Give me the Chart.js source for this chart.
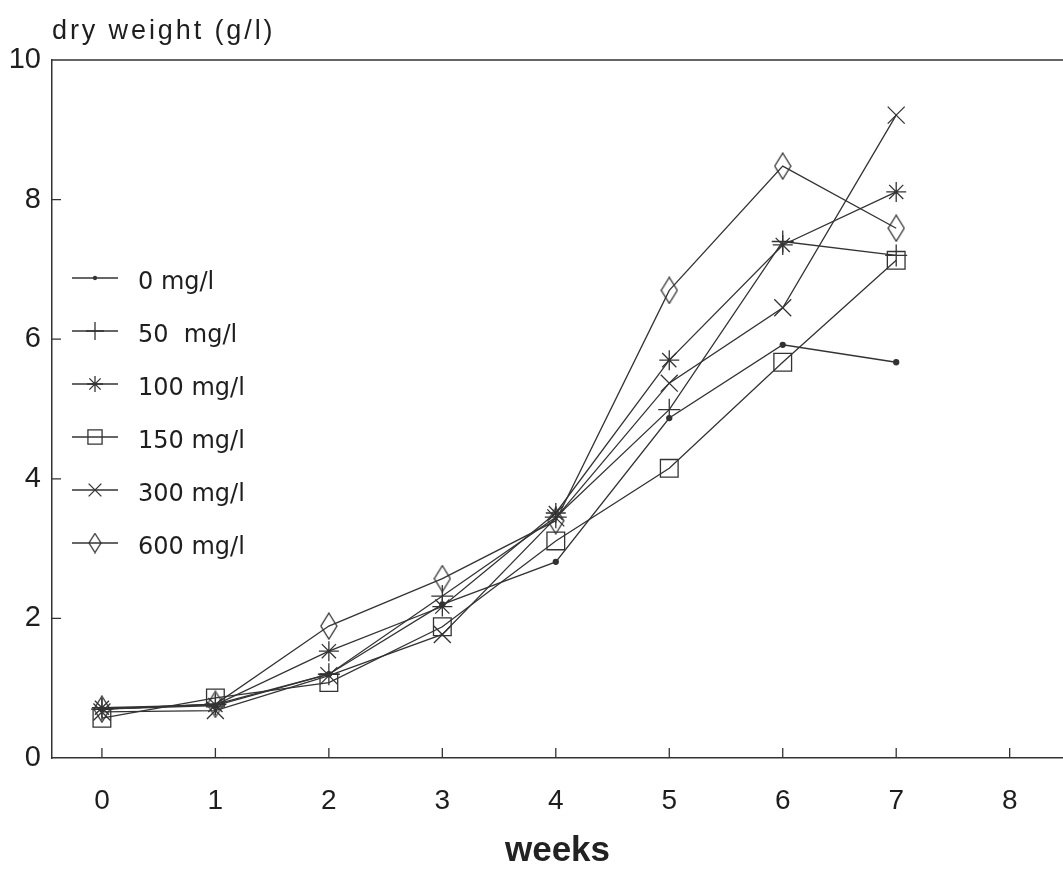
<!DOCTYPE html>
<html>
<head>
<meta charset="utf-8">
<title>dry weight</title>
<script src="https://cdn.jsdelivr.net/npm/chart.js@4.4.1/dist/chart.umd.min.js"></script>
<style>
  html, body { margin: 0; padding: 0; background: #fff; overflow: hidden; }
  #wrap { position: relative; width: 1063px; height: 872px; }
  canvas { display: block; }
</style>
</head>
<body>
<div id="wrap"><canvas id="dry-weight-chart" width="1063" height="872"></canvas></div>
<script>
// weeks of culture and dry weight (g/l) per dose
var weeks = [0, 1, 2, 3, 4, 5, 6, 7];
var xTicks = [0, 1, 2, 3, 4, 5, 6, 7, 8];
var yTicks = [0, 2, 4, 6, 8, 10];
var doseLabels = ['0 mg/l', '50  mg/l', '100 mg/l', '150 mg/l', '300 mg/l', '600 mg/l'];
var dose0   = [0.70, 0.75, 1.20, 2.20, 2.81, 4.87, 5.92, 5.67];
var dose50  = [0.70, 0.77, 1.20, 2.32, 3.45, 4.99, 7.40, 7.20];
var dose100 = [0.72, 0.76, 1.53, 2.17, 3.51, 5.70, 7.35, 8.11];
var dose150 = [0.57, 0.86, 1.08, 1.88, 3.11, 4.15, 5.67, 7.13];
var dose300 = [0.66, 0.68, 1.18, 1.77, 3.44, 5.37, 6.45, 9.21];
var dose600 = [0.70, 0.77, 1.89, 2.57, 3.40, 6.70, 8.48, 7.59];

var ink = '#333';
var textInk = '#1e1e1e';

// tall open diamond used as the 600 mg/l marker
function diamond(w, h) {
  var c = document.createElement('canvas');
  c.width = w + 2;
  c.height = h + 2;
  var g = c.getContext('2d');
  g.strokeStyle = ink;
  g.lineWidth = 1.3;
  g.beginPath();
  g.moveTo(c.width / 2, 1);
  g.lineTo(c.width - 1, c.height / 2);
  g.lineTo(c.width / 2, c.height - 1);
  g.lineTo(1, c.height / 2);
  g.closePath();
  g.stroke();
  return c;
}
var bigDiamond = diamond(16, 26);
var smallDiamond = diamond(12, 19);

function points(values) {
  return weeks.map(function (w, i) { return { x: w, y: values[i] }; });
}

function series(label, values, style, radius, filled, legendStyle, legendRadius) {
  return {
    label: label,
    data: points(values),
    borderColor: ink,
    borderWidth: 1.3,
    pointStyle: style,
    pointRadius: radius,
    pointBorderWidth: 1.3,
    pointBorderColor: ink,
    pointBackgroundColor: filled ? ink : 'rgba(0,0,0,0)',
    legendStyle: legendStyle,
    legendRadius: legendRadius,
    tension: 0,
    fill: false
  };
}

var datasets = [
  series(doseLabels[0], dose0, 'circle', 2.5, true, 'circle', 1.5),
  series(doseLabels[1], dose50, 'cross', 11, false, 'cross', 9),
  series(doseLabels[2], dose100, 'star', 10, false, 'star', 8),
  series(doseLabels[3], dose150, 'rect', 12.5, false, 'rect', 10),
  series(doseLabels[4], dose300, 'crossRot', 12, false, 'crossRot', 9),
  series(doseLabels[5], dose600, bigDiamond, 10, false, smallDiamond, 8)
];

// inward tick marks, top frame line, y title and the legend block
var decorations = {
  id: 'decorations',
  afterDraw: function (chart) {
    var ctx = chart.ctx;
    var area = chart.chartArea;
    var xs = chart.scales.x;
    var ys = chart.scales.y;
    ctx.save();
    ctx.strokeStyle = ink;
    ctx.lineWidth = 1.3;
    ctx.beginPath();
    ctx.moveTo(area.left, area.top);
    ctx.lineTo(area.right, area.top);
    xTicks.forEach(function (t) {
      var px = xs.getPixelForValue(t);
      ctx.moveTo(px, area.bottom);
      ctx.lineTo(px, area.bottom - 10);
    });
    yTicks.forEach(function (t) {
      if (t === 0 || t === 10) return;
      var py = ys.getPixelForValue(t);
      ctx.moveTo(area.left, py);
      ctx.lineTo(area.left + 9, py);
    });
    ctx.stroke();

    ctx.fillStyle = textInk;
    ctx.textBaseline = 'alphabetic';
    ctx.font = '27px "Liberation Sans"';
    ctx.letterSpacing = '2.9px';
    ctx.fillText('dry weight (g/l)', 52, 39);
    ctx.letterSpacing = '0px';

    // legend
    chart.data.datasets.forEach(function (ds, i) {
      var y = 278 + i * 53;
      ctx.strokeStyle = ink;
      ctx.lineWidth = 1.3;
      ctx.beginPath();
      ctx.moveTo(72, y);
      ctx.lineTo(118, y);
      ctx.stroke();
      ctx.fillStyle = ds.legendStyle === 'circle' ? ink : 'rgba(0,0,0,0)';
      Chart.helpers.drawPoint(ctx, {
        pointStyle: ds.legendStyle,
        radius: ds.legendRadius,
        rotation: 0,
        borderWidth: 1.3
      }, 95, y);
      ctx.fillStyle = textInk;
      ctx.font = '24px "DejaVu Sans"';
      ctx.textBaseline = 'middle';
      ctx.fillText(ds.label, 138, y + 5);
    });
    ctx.restore();
  }
};

var ctx = document.getElementById('dry-weight-chart').getContext('2d');
var chart = new Chart(ctx, {
  type: 'line',
  data: { datasets: datasets },
  options: {
    responsive: false,
    animation: false,
    events: [],
    layout: { autoPadding: false, padding: { top: 60, right: 0, left: 0, bottom: 0 } },
    plugins: {
      legend: { display: false },
      title: { display: false },
      tooltip: { enabled: false }
    },
    scales: {
      x: {
        type: 'linear',
        min: -0.44,
        max: 8.47,
        afterBuildTicks: function (scale) {
          scale.ticks = xTicks.map(function (v) { return { value: v }; });
        },
        afterFit: function (scale) { scale.height = 114; },
        grid: { display: true, drawOnChartArea: false, drawTicks: false },
        border: { display: true, color: ink, width: 1.5 },
        ticks: {
          padding: 26,
          color: textInk,
          font: { family: 'Liberation Sans', size: 28 },
          callback: function (v) { return v; }
        },
        title: {
          display: true,
          text: 'weeks',
          color: '#222',
          font: { family: 'Liberation Sans', size: 35, weight: 'bold' },
          padding: { top: 2, bottom: 0 }
        }
      },
      y: {
        min: 0,
        max: 10,
        afterBuildTicks: function (scale) {
          scale.ticks = yTicks.map(function (v) { return { value: v }; });
        },
        afterFit: function (scale) { scale.width = 52; },
        grid: { display: true, drawOnChartArea: false, drawTicks: false },
        border: { display: true, color: ink, width: 1.5 },
        ticks: {
          padding: 11,
          color: textInk,
          font: { family: 'Liberation Sans', size: 29 }
        }
      }
    }
  },
  plugins: [decorations]
});
</script>
</body>
</html>
